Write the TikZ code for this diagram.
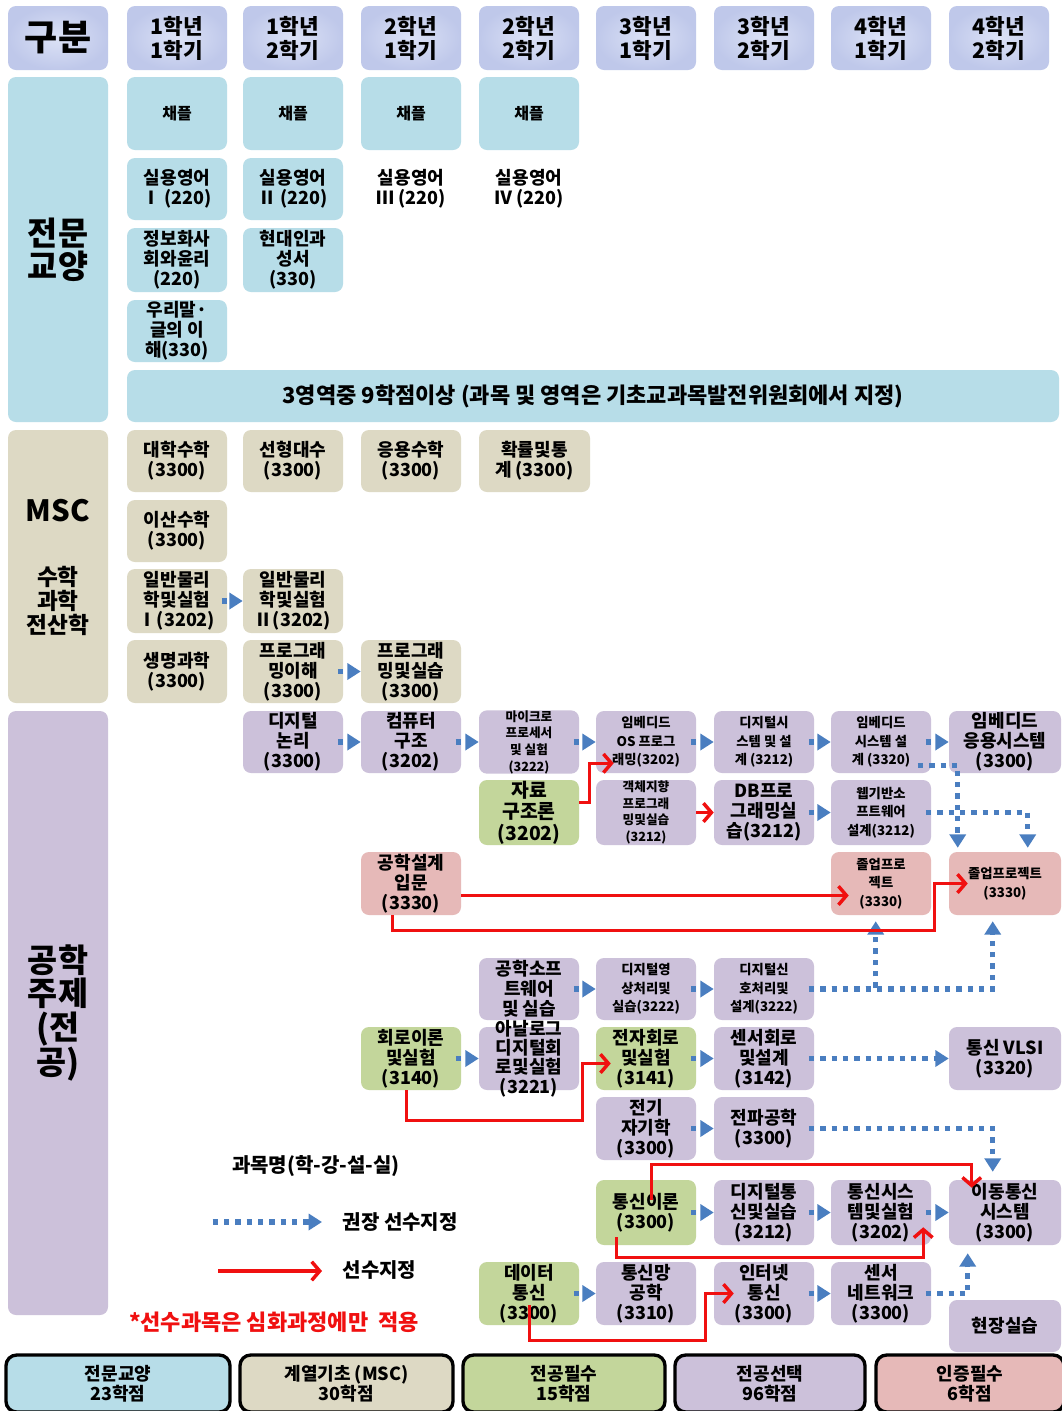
\documentclass[tikz,border=0pt]{standalone}
\usepackage{fontspec}
\setmainfont{Noto Sans CJK KR}
\usetikzlibrary{arrows.meta}

\definecolor{hdcol}{HTML}{BFC8EA}
\definecolor{hdlight}{HTML}{DCE2F6}
\definecolor{gecol}{HTML}{B7DDE8}
\definecolor{msccol}{HTML}{DDD9C4}
\definecolor{corecol}{HTML}{C3D69B}
\definecolor{selcol}{HTML}{CCC1DA}
\definecolor{certcol}{HTML}{E6B9B8}
\definecolor{dotblue}{HTML}{4A7EC0}
\definecolor{prered}{HTML}{F01010}

\newcommand\ksize[2]{\bfseries\fontsize{#1}{#2}\selectfont}
\newbox\mlbox
\newcommand\ml[1]{\setbox\mlbox=\vbox{\let\\\cr\halign{\hfil##\hfil\cr#1\crcr}}%
  \lower\dimexpr(\ht\mlbox-\dp\mlbox)/2\relax\box\mlbox}

\tikzset{
  cell/.style args={#1,#2,#3,#4}{at={({(#1+#3)/2},{(#2+#4)/2})},
    minimum width={(#3-#1)*0.75pt}, minimum height={(#4-#2)*0.75pt}},
  cbox/.style={rounded corners=6pt, inner sep=0pt, font=\ksize{13.5}{15}},
  hd/.style={cbox, inner color=hdlight, outer color=hdcol, font=\ksize{16}{18}},
  ge/.style={cbox, fill=gecol},
  msc/.style={cbox, fill=msccol},
  core/.style={cbox, fill=corecol},
  sel/.style={cbox, fill=selcol},
  cert/.style={cbox, fill=certcol},
  fsmall/.style={font=\ksize{10}{14}},
  fsmaller/.style={font=\ksize{9.5}{12.5}},
  fside/.style={font=\ksize{24.5}{25}},
  total/.style={cbox, draw=black, line width=2.5pt, rounded corners=8pt, font=\ksize{13.5}{15}},
  recom/.style={draw=dotblue, line width=4pt, dash pattern=on 4pt off 4.5pt,
    -{Triangle[length=10pt,width=12pt]}, shorten <=-4pt},
  prereq/.style={draw=prered, line width=2.6pt, -{Straight Barb[length=6pt,width=14pt]}}
}

\begin{document}
\begin{tikzpicture}[x=0.75pt, y=-0.75pt]
  \useasboundingbox (0,0) rectangle (1061,1411);
  \fill[white] (0,0) rectangle (1061,1411);

  % header row
  \node (hd0) [hd, cell={8,6,108,70}, font=\ksize{27}{28}] {\ml{구분}};
  \foreach \x/\yr/\sm [count=\i] in {127/1/1,243/1/2,361/2/1,479/2/2,596/3/1,714/3/2,831/4/1,949/4/2}
    \node (hd\i) [hd, cell={\x,6,\x+100,70}] {\ml{\yr{}학년\\\sm{}학기}};

  % general education
  \node (gebar) [ge, cell={8,77,108,422}, fside] {\ml{전문\\교양}};
  \foreach \x [count=\i] in {127,243,361,479}
    \node (chapel\i) [ge, cell={\x,77,\x+100,150}, font=\ksize{12}{14}] {\ml{채플}};
  \node (eng1) [ge, cell={127,158,227,220}] {\ml{실용영어\\Ⅰ (220)}};
  \node (eng2) [ge, cell={243,158,343,220}] {\ml{실용영어\\Ⅱ (220)}};
  \node (eng3) [cbox, cell={361,158,461,220}] {\ml{실용영어\\Ⅲ (220)}};
  \node (eng4) [cbox, cell={479,158,579,220}] {\ml{실용영어\\Ⅳ (220)}};
  \node (ethics) [ge, cell={127,228,227,292}] {\ml{정보화사\\회와윤리\\(220)}};
  \node (bible) [ge, cell={243,228,343,292}] {\ml{현대인과\\성서\\(330)}};
  \node (korean) [ge, cell={127,300,227,362}] {\ml{우리말·\\글의 이\\해(330)}};
  \node (area) [ge, cell={127,370,1059,422}, font=\ksize{16.5}{18}] {\ml{3영역중 9학점이상 (과목 및 영역은 기초교과목발전위원회에서 지정)}};

  % MSC
  \node (mscbar) [msc, cell={8,430,108,703},
    label={[font=\ksize{22}{24}, yshift=41.6pt]center:\ml{MSC}},
    label={[font=\ksize{17}{18}, yshift=-25.9pt]center:\ml{수학\\과학\\전산학}}] {};
  \node (calc) [msc, cell={127,430,227,492}] {\ml{대학수학\\(3300)}};
  \node (linalg) [msc, cell={243,430,343,492}] {\ml{선형대수\\(3300)}};
  \node (appmath) [msc, cell={361,430,461,492}] {\ml{응용수학\\(3300)}};
  \node (prob) [msc, cell={479,430,590,492}] {\ml{확률및통\\계 (3300)}};
  \node (discrete) [msc, cell={127,500,227,562}] {\ml{이산수학\\(3300)}};
  \node (phys1) [msc, cell={127,569,227,633}] {\ml{일반물리\\학및실험\\Ⅰ(3202)}};
  \node (phys2) [msc, cell={243,569,343,633}] {\ml{일반물리\\학및실험\\Ⅱ(3202)}};
  \node (bio) [msc, cell={127,640,227,703}] {\ml{생명과학\\(3300)}};
  \node (progbasic) [msc, cell={243,640,343,703}] {\ml{프로그래\\밍이해\\(3300)}};
  \node (progprac) [msc, cell={361,640,461,703}] {\ml{프로그래\\밍및실습\\(3300)}};

  % major
  \node (majorbar) [sel, cell={8,711,108,1315}, fside] {\ml{공학\\주제\\(전\\공)}};
  \node (logic) [sel, cell={243,711,343,773}] {\ml{디지털\\논리\\(3300)}};
  \node (arch) [sel, cell={361,711,461,773}] {\ml{컴퓨터\\구조\\(3202)}};
  \node (micro) [sel, cell={479,711,579,773}, fsmaller] {\ml{마이크로\\프로세서\\및 실험\\(3222)}};
  \node (embos) [sel, cell={596,711,696,773}, fsmall] {\ml{임베디드\\OS 프로그\\래밍(3202)}};
  \node (digsys) [sel, cell={714,711,814,773}, fsmall] {\ml{디지털시\\스템 및 설\\계 (3212)}};
  \node (embsys) [sel, cell={831,711,931,773}, fsmall] {\ml{임베디드\\시스템 설\\계 (3320)}};
  \node (embapp) [sel, cell={949,711,1061,773}] {\ml{임베디드\\응용시스템\\(3300)}};
  \node (dstruct) [core, cell={479,780,579,845}, font=\ksize{14.5}{16}] {\ml{자료\\구조론\\(3202)}};
  \node (oop) [sel, cell={596,780,696,845}, fsmaller] {\ml{객체지향\\프로그래\\밍및실습\\(3212)}};
  \node (dbprog) [sel, cell={714,780,814,845}] {\ml{DB프로\\그래밍실\\습(3212)}};
  \node (websw) [sel, cell={831,780,931,845}, fsmall] {\ml{웹기반소\\프트웨어\\설계(3212)}};
  \node (design) [cert, cell={361,852,461,915}] {\ml{공학설계\\입문\\(3330)}};
  \node (cap1) [cert, cell={831,852,931,915}, fsmall] {\ml{졸업프로\\젝트\\(3330)}};
  \node (cap2) [cert, cell={949,852,1061,915}, fsmall] {\ml{졸업프로젝트\\(3330)}};
  \node (engsw) [sel, cell={479,958,579,1020}] {\ml{공학소프\\트웨어\\및 실습}};
  \node (image) [sel, cell={596,958,696,1020}, fsmall] {\ml{디지털영\\상처리및\\실습(3222)}};
  \node (signal) [sel, cell={714,958,814,1020}, fsmall] {\ml{디지털신\\호처리및\\설계(3222)}};
  \node (circuit) [core, cell={361,1027,461,1090}] {\ml{회로이론\\및실험\\(3140)}};
  \node (analog) [sel, cell={479,1027,579,1090},
    label={[font=\ksize{13.5}{14.5}]center:\ml{아날로그\\디지털회\\로및실험\\(3221)}}] {};
  \node (elec) [core, cell={596,1027,696,1090}] {\ml{전자회로\\및실험\\(3141)}};
  \node (sensorckt) [sel, cell={714,1027,814,1090}] {\ml{센서회로\\및설계\\(3142)}};
  \node (vlsi) [sel, cell={949,1027,1061,1090}] {\ml{통신 VLSI\\(3320)}};
  \node (emag) [sel, cell={596,1097,696,1160}] {\ml{전기\\자기학\\(3300)}};
  \node (wave) [sel, cell={714,1097,814,1160}] {\ml{전파공학\\(3300)}};
  \node (commthy) [core, cell={596,1180,696,1245}] {\ml{통신이론\\(3300)}};
  \node (digcomm) [sel, cell={714,1180,814,1245}] {\ml{디지털통\\신및실습\\(3212)}};
  \node (commsys) [sel, cell={831,1180,931,1245}] {\ml{통신시스\\템및실험\\(3202)}};
  \node (mobile) [sel, cell={949,1180,1061,1245}] {\ml{이동통신\\시스템\\(3300)}};
  \node (datacomm) [core, cell={479,1262,579,1325}] {\ml{데이터\\통신\\(3300)}};
  \node (network) [sel, cell={596,1262,696,1325}] {\ml{통신망\\공학\\(3310)}};
  \node (internet) [sel, cell={714,1262,814,1325}] {\ml{인터넷\\통신\\(3300)}};
  \node (sensornet) [sel, cell={831,1262,931,1325}] {\ml{센서\\네트워크\\(3300)}};
  \node (field) [sel, cell={949,1300,1061,1352}] {\ml{현장실습}};

  % recommended
  \foreach \a/\b in {phys1/phys2, progbasic/progprac, logic/arch, arch/micro, micro/embos,
      embos/digsys, digsys/embsys, embsys/embapp, dbprog/websw, engsw/image, image/signal,
      circuit/analog, elec/sensorckt, sensorckt/vlsi, emag/wave, commthy/digcomm,
      digcomm/commsys, commsys/mobile, datacomm/network, internet/sensornet}
    \draw[recom] (\a) -- (\b);
  \draw[recom] ([shift={(-8,-8)}]embsys.south east) -| ([shift={(9,-4)}]cap2.north west);
  \draw[recom] (websw.east) -| ([shift={(79,-4)}]cap2.north west);
  \draw[recom] (signal.east) -| ([shift={(45,6)}]cap1.south west);
  \draw[recom] (signal.east) -| ([shift={(44,6)}]cap2.south west);
  \draw[recom] (wave.east) -| ([shift={(44,-8)}]mobile.north west);
  \draw[recom] (sensornet.east) -| ([shift={(19,8)}]mobile.south west);

  % required
  \draw[prereq] ([shift={(0,-10)}]dstruct.east) -- ++(10,0) |- ([shift={(18,-10)}]embos.south west);
  \draw[prereq] (oop) -- (dbprog);
  \draw[prereq] ([shift={(0,12)}]design.east) -- ([shift={(18,12)}]cap1.west);
  \draw[prereq] ([shift={(32,0)}]design.south west) -- ++(0,15) -| ([shift={(-14,0)}]cap2.west) -- ([shift={(19,0)}]cap2.west);
  \draw[prereq] ([shift={(46,0)}]circuit.south west) -- ++(0,30) -| ([shift={(-13,5)}]elec.west) -- ([shift={(15,5)}]elec.west);
  \draw[prereq] ([shift={(56,20)}]commthy.north west) |- ([shift={(23,-15)}]mobile.north west) -- ([shift={(23,8)}]mobile.north west);
  \draw[prereq] ([shift={(21,-8)}]commthy.south west) |- ([shift={(-8,12)}]commsys.south east) -- ([shift={(-8,-18)}]commsys.south east);
  \draw[prereq] ([shift={(51,-20)}]datacomm.south west) -- ++(0,35) -| ([shift={(-8,0)}]internet.west) -- ([shift={(20,0)}]internet.west);

  % legend
  \node (keyname) at (316,1166) [font=\ksize{15}{17}] {과목명(학-강-설-실)};
  \node (reclabel) [anchor=west, font=\ksize{15}{17}] at (338,1222) {권장 선수지정};
  \node (prelabel) [anchor=west, font=\ksize{15}{17}] at (338,1270) {선수지정};
  \coordinate (recstart) at (218,1222);
  \coordinate (prestart) at (218,1271);
  \draw[recom] (recstart) -- ([xshift=-12pt]reclabel.west);
  \draw[prereq] (prestart) -- ([xshift=-12pt]prelabel.west |- prestart);
  \node (note) at (274,1322) [text=prered, font=\ksize{16.5}{18}] {*선수과목은 심화과정에만\ \ 적용};

  % totals
  \node (sumge) [total, fill=gecol, cell={6,1355,230,1412}] {\ml{전문교양\\23학점}};
  \node (summsc) [total, fill=msccol, cell={240,1355,453,1412}] {\ml{계열기초 (MSC)\\30학점}};
  \node (sumcore) [total, fill=corecol, cell={463,1355,665,1412}] {\ml{전공필수\\15학점}};
  \node (sumsel) [total, fill=selcol, cell={675,1355,865,1412}] {\ml{전공선택\\96학점}};
  \node (sumcert) [total, fill=certcol, cell={876,1355,1064,1412}] {\ml{인증필수\\6학점}};
\end{tikzpicture}
\end{document}
